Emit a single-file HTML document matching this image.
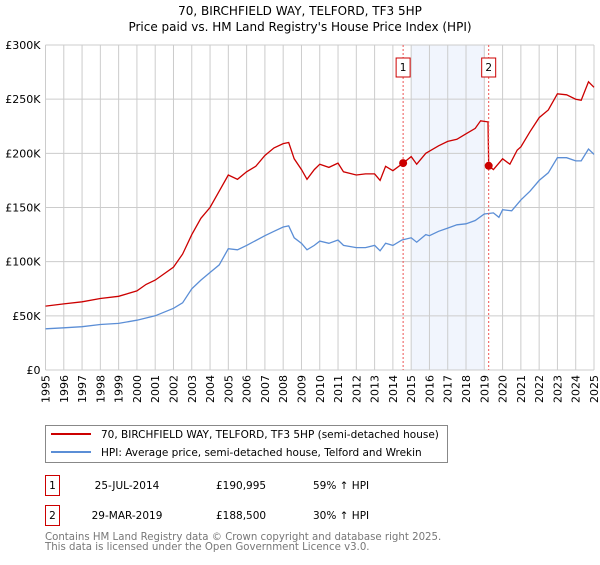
<!DOCTYPE html>
<html><head><meta charset="utf-8"><style>
body{margin:0;background:#fff;font-family:"Liberation Sans","DejaVu Sans",sans-serif;}
svg text{font-family:"DejaVu Sans","Liberation Sans",sans-serif;}
</style></head><body>
<svg width="600" height="560" viewBox="0 0 600 560" xmlns="http://www.w3.org/2000/svg">
<text x="300" y="15" text-anchor="middle" font-size="12">70, BIRCHFIELD WAY, TELFORD, TF3 5HP</text>
<text x="300" y="31" text-anchor="middle" font-size="12">Price paid vs. HM Land Registry's House Price Index (HPI)</text>
<g id="plot"></g>
<g>
<rect x="45.5" y="425.5" width="402" height="37" fill="#fff" stroke="#888"/>
<line x1="51" y1="434" x2="91" y2="434" stroke="#cc0000" stroke-width="2"/>
<text x="101" y="438" font-size="10.5">70, BIRCHFIELD WAY, TELFORD, TF3 5HP (semi-detached house)</text>
<line x1="51" y1="452" x2="91" y2="452" stroke="#5b8ed6" stroke-width="2"/>
<text x="101" y="456" font-size="10.5">HPI: Average price, semi-detached house, Telford and Wrekin</text>
</g>
<g font-size="10.5">
<rect x="45.5" y="475.5" width="14" height="20" fill="#fff" stroke="#cc0000"/>
<text x="52.5" y="489" text-anchor="middle">1</text>
<text x="127" y="489" text-anchor="middle">25-JUL-2014</text>
<text x="216" y="489" text-anchor="start">£190,995</text>
<text x="313" y="489">59% ↑ HPI</text>
<rect x="45.5" y="505.5" width="14" height="20" fill="#fff" stroke="#cc0000"/>
<text x="52.5" y="519" text-anchor="middle">2</text>
<text x="127" y="519" text-anchor="middle">29-MAR-2019</text>
<text x="216" y="519" text-anchor="start">£188,500</text>
<text x="313" y="519">30% ↑ HPI</text>
</g>
<text x="45" y="540" font-size="10.2" fill="#777">Contains HM Land Registry data © Crown copyright and database right 2025.</text>
<text x="45" y="550" font-size="10.2" fill="#777">This data is licensed under the Open Government Licence v3.0.</text>
</svg>
<script>
const yTicks=[0,50000,100000,150000,200000,250000,300000];
const yTickLabels=["£0","£50K","£100K","£150K","£200K","£250K","£300K"];
const years=[1995,1996,1997,1998,1999,2000,2001,2002,2003,2004,2005,2006,2007,2008,2009,2010,2011,2012,2013,2014,2015,2016,2017,2018,2019,2020,2021,2022,2023,2024,2025];
const hpiT=[1995,1996,1997,1998,1999,2000,2001,2002,2002.5,2003,2003.5,2004,2004.5,2005,2005.5,2006,2007,2007.5,2008,2008.3,2008.6,2009,2009.3,2009.7,2010,2010.5,2011,2011.3,2012,2012.5,2013,2013.3,2013.6,2014,2014.5,2015,2015.3,2015.8,2016,2016.5,2017,2017.5,2018,2018.5,2019,2019.5,2019.8,2020,2020.5,2021,2021.5,2022,2022.5,2023,2023.5,2024,2024.3,2024.7,2025];
const hpiV=[38,39,40,42,43,46,50,57,62,75,83,90,97,112,111,115,124,128,132,133,122,117,111,115,119,117,120,115,113,113,115,110,117,115,120,122,118,125,124,128,131,134,135,138,144,145,141,148,147,157,165,175,182,196,196,193,193,204,199];
const priceT=[1995,1996,1997,1998,1999,2000,2000.5,2001,2002,2002.5,2003,2003.5,2004,2004.5,2005,2005.5,2006,2006.5,2007,2007.5,2008,2008.3,2008.6,2009,2009.3,2009.7,2010,2010.5,2011,2011.3,2012,2012.5,2013,2013.3,2013.6,2014,2014.56,2015,2015.3,2015.8,2016,2016.5,2017,2017.5,2018,2018.5,2018.8,2019.2,2019.24,2019.5,2020,2020.4,2020.8,2021,2021.5,2022,2022.5,2023,2023.5,2024,2024.3,2024.7,2025];
const priceV=[59,61,63,66,68,73,79,83,95,107,125,140,150,165,180,176,183,188,198,205,209,210,195,185,176,185,190,187,191,183,180,181,181,175,188,184,191,197,190,200,202,207,211,213,218,223,230,229,188.5,185,195,190,203,206,220,233,240,255,254,250,249,266,261];
const saleT=[2014.56,2019.24];
const saleV=[190.995,188.5];
const saleLabels=["1","2"];
const band=[2015,2019];
const X0=45.5,X1=594,Y0=370,Y1=45;
const xs=t=>X0+(t-1995)/30*(X1-X0);
const ys=v=>Y0-v/300000*(Y0-Y1);
const NS="http://www.w3.org/2000/svg";
const g=document.getElementById('plot');
function mk(tag,attrs,parent){const e=document.createElementNS(NS,tag);for(const k in attrs)e.setAttribute(k,attrs[k]);(parent||g).appendChild(e);return e;}
let r=mk('rect',{x:xs(band[0]),y:Y1,width:xs(band[1])-xs(band[0]),height:Y0-Y1,fill:'#eef3fc',opacity:0.8});


years.forEach(yr=>{const x=xs(yr);
 let l=mk('line',{x1:x,x2:x,y1:Y1,y2:Y0,stroke:'#ccc','stroke-width':1});
 
 
 let t=mk('text',{x:0,y:0,'font-size':11,'text-anchor':'end',transform:`translate(${x+4},${Y0+5}) rotate(-90)`});
 t.textContent=yr;
 
 
});
yTicks.forEach((v,i)=>{const y=ys(v);
 let l=mk('line',{x1:X0,x2:X1,y1:y,y2:y,stroke:'#ccc','stroke-width':1});
 
 
 let t=mk('text',{x:X0-5,y:y+4,'font-size':11,'text-anchor':'end'});
 t.textContent=yTickLabels[i];
 
 
});
mk('line',{x1:X0,x2:X0,y1:Y1,y2:Y0,stroke:'#ccc'});
function path(T,V,col,name){let d=T.map((t,i)=>(i?'L':'M')+xs(t).toFixed(1)+','+ys(V[i]*1000).toFixed(1)).join('');
 let p=mk('path',{d:d,fill:'none',stroke:col,'stroke-width':1.3});
 
 }
path(hpiT,hpiV,'#5b8ed6','hpi-line');
path(priceT,priceV,'#cc0000','price-line');
saleT.forEach((t,i)=>{const x=xs(t);
 let l=mk('line',{x1:x,x2:x,y1:Y1,y2:Y0,stroke:'#e55','stroke-width':1,'stroke-dasharray':'2,2'});
 
 
 let c=mk('circle',{cx:x,cy:ys(saleV[i]*1000),r:4,fill:'#cc0000'});
 
 
 let b=mk('rect',{x:x-7,y:58,width:14,height:19,fill:'#fff',stroke:'#cc0000'});
 
 
 let t2=mk('text',{x:x,y:71,'font-size':10.5,'text-anchor':'middle'});
 t2.textContent=saleLabels[i];
 
 
});
</script>
</body></html>
